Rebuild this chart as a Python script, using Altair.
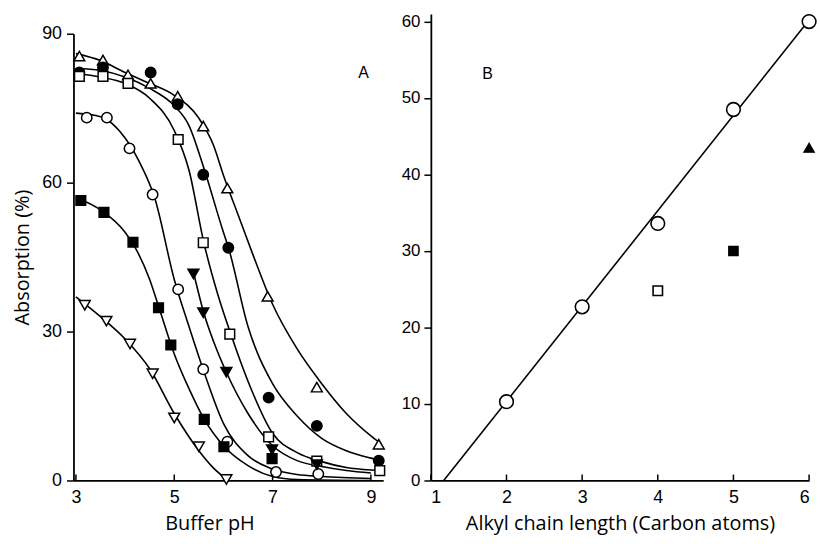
import altair as alt
import pandas as pd

# ---------------- Panel A: absorption vs buffer pH ----------------
# measured points (pH, absorption %)
tri_up_ph = [3.07, 3.55, 4.06, 4.52, 5.07, 5.59, 6.08, 6.9, 7.9, 9.16]
tri_up_val = [85.5, 84.7, 81.7, 80.0, 77.4, 71.4, 58.9, 37.1, 18.8, 7.3]
circ_f_ph = [3.07, 3.55, 4.52, 5.07, 5.59, 6.1, 6.92, 7.9, 9.16]
circ_f_val = [82.2, 83.2, 82.2, 75.8, 61.6, 46.9, 16.7, 11.0, 4.0]
sq_o_ph = [3.07, 3.55, 4.06, 5.08, 5.59, 6.13, 6.92, 7.9, 9.18]
sq_o_val = [81.4, 81.4, 80.0, 68.7, 47.9, 29.5, 8.8, 3.9, 2.0]
circ_o_ph = [3.22, 3.63, 4.09, 4.56, 5.08, 5.59, 6.08, 7.07, 7.93]
circ_o_val = [73.1, 73.1, 66.9, 57.6, 38.5, 22.4, 7.8, 1.7, 1.3]
sq_f_ph = [3.1, 3.57, 4.16, 4.68, 4.93, 5.61, 6.01, 6.99]
sq_f_val = [56.4, 54.0, 48.0, 34.8, 27.3, 12.3, 6.8, 4.4]
tri_dn_o_ph = [3.18, 3.62, 4.1, 4.56, 5.0, 5.5, 6.06]
tri_dn_o_val = [35.3, 32.1, 27.5, 21.5, 12.6, 6.8, 0.2]
tri_dn_f_ph = [5.39, 5.59, 6.06, 6.99, 7.9]
tri_dn_f_val = [41.6, 33.8, 21.8, 6.2, 3.2]

# fitted curves (pH, absorption %)
tri_up_curve_ph = [3.0, 3.5, 4.0, 4.5, 5.0, 5.5, 5.8, 6.0, 6.3, 6.6, 7.0, 7.5, 8.0, 8.5, 9.0, 9.2]
tri_up_curve_val = [86.0, 84.6, 82.2, 80.0, 77.6, 73.0, 67.5, 61.5, 53.5, 45.5, 35.5, 26.5, 19.5, 13.5, 9.0, 7.5]
circ_f_curve_ph = [3.0, 3.5, 4.0, 4.5, 5.0, 5.3, 5.6, 6.0, 6.1, 6.5, 7.0, 7.5, 8.0, 8.5, 9.0, 9.2]
circ_f_curve_val = [83.0, 82.6, 81.3, 79.0, 75.5, 71.5, 63.0, 50.0, 47.0, 31.0, 19.5, 13.0, 8.5, 6.0, 4.5, 4.0]
sq_o_curve_ph = [3.0, 3.5, 4.0, 4.5, 5.0, 5.3, 5.6, 5.9, 6.15, 6.5, 7.0, 7.5, 8.0, 8.5, 9.0, 9.2]
sq_o_curve_val = [82.0, 81.3, 80.0, 77.0, 70.5, 62.5, 48.0, 37.0, 29.5, 20.0, 9.5, 5.6, 3.8, 2.6, 2.1, 2.0]
circ_o_curve_ph = [3.0, 3.5, 4.0, 4.3, 4.6, 5.0, 5.3, 5.6, 6.0, 6.5, 7.0, 7.5, 8.0, 9.0]
circ_o_curve_val = [74.0, 73.3, 69.0, 64.0, 57.0, 40.5, 31.0, 22.0, 11.5, 5.0, 2.3, 1.2, 0.8, 0.4]
sq_f_curve_ph = [3.0, 3.5, 4.0, 4.2, 4.5, 4.7, 5.0, 5.3, 5.6, 6.0, 6.5, 7.0, 7.5, 9.0]
sq_f_curve_val = [57.0, 54.5, 50.0, 47.0, 40.5, 34.5, 25.5, 18.5, 12.5, 7.0, 3.0, 0.8, 0.2, 0.0]
tri_dn_o_curve_ph = [3.0, 3.5, 4.0, 4.5, 5.0, 5.5, 5.8, 6.1]
tri_dn_o_curve_val = [37.0, 33.0, 28.5, 22.5, 13.5, 6.0, 2.5, 0.0]
tri_dn_f_curve_ph = [5.4, 5.6, 5.8, 6.06, 6.5, 7.0, 7.5, 8.0, 8.5, 9.0]
tri_dn_f_curve_val = [41.6, 33.8, 28.0, 21.8, 13.5, 7.0, 4.0, 2.8, 2.0, 1.5]

a_x_ticks = [3, 5, 7, 9]
a_y_ticks = [0, 30, 60, 90]

# ---------------- Panel B: absorption vs alkyl chain length ----------------
b_circ_x = [2, 3, 4, 5, 6]
b_circ_y = [10.3, 22.7, 33.6, 48.5, 60.0]
b_line_x = [1.17, 6.0]
b_line_y = [0.0, 60.2]
b_sq_o_x = [4]
b_sq_o_y = [24.8]
b_sq_f_x = [5]
b_sq_f_y = [30.0]
b_tri_f_x = [6]
b_tri_f_y = [43.5]
b_x_ticks = [1, 2, 3, 4, 5, 6]
b_y_ticks = [0, 10, 20, 30, 40, 50, 60]

LABEL_FONT = "Liberation Sans"
TITLE_FONT = "Open Sans"

A_W, H = 312, 470
B_W = 381

a_x = alt.Scale(domain=[2.95, 9.25], nice=False)
a_y = alt.Scale(domain=[0, 90], range=[H, 20], nice=False)
b_x = alt.Scale(domain=[1, 6], nice=False)
b_y = alt.Scale(domain=[0, 61], nice=False)

series_styles = [
    ("tri_up", tri_up_ph, tri_up_val, tri_up_curve_ph, tri_up_curve_val, "triangle-up", False, 120),
    ("circ_f", circ_f_ph, circ_f_val, circ_f_curve_ph, circ_f_curve_val, "circle", True, 110),
    ("sq_o", sq_o_ph, sq_o_val, sq_o_curve_ph, sq_o_curve_val, "square", False, 95),
    ("circ_o", circ_o_ph, circ_o_val, circ_o_curve_ph, circ_o_curve_val, "circle", False, 110),
    ("sq_f", sq_f_ph, sq_f_val, sq_f_curve_ph, sq_f_curve_val, "square", True, 95),
    ("tri_dn_o", tri_dn_o_ph, tri_dn_o_val, tri_dn_o_curve_ph, tri_dn_o_curve_val, "triangle-down", False, 120),
    ("tri_dn_f", tri_dn_f_ph, tri_dn_f_val, tri_dn_f_curve_ph, tri_dn_f_curve_val, "triangle-down", True, 120),
]

curve_rows = []
for name, _, _, cph, cval, _, _, _ in series_styles:
    for p, v in zip(cph, cval):
        curve_rows.append({"series": name, "ph": p, "val": v})
curves_df = pd.DataFrame(curve_rows)

xA = alt.X("ph:Q", scale=a_x,
           axis=alt.Axis(values=a_x_ticks, format="d", title="Buffer pH", tickSize=0, labelPadding=8,
                         labelFontSize=18, titleFontSize=20, titlePadding=7, titleX=137))
yA = alt.Y("val:Q", scale=a_y,
           axis=alt.Axis(values=a_y_ticks, title="Absorption (%)", tickSize=7, labelPadding=5,
                         labelFontSize=18, titleFontSize=20, titlePadding=9))

layersA = [
    alt.Chart(curves_df).mark_line(color="black", strokeWidth=1.6, interpolate="monotone", clip=True)
    .encode(x=xA, y=yA, detail="series:N")
]
for name, ph, val, _, _, shape, filled, size in series_styles:
    df = pd.DataFrame({"ph": ph, "val": val})
    layersA.append(
        alt.Chart(df).mark_point(shape=shape, filled=True, fill="black" if filled else "white",
                                 stroke="black", strokeWidth=1.5, size=size, opacity=1)
        .encode(x=xA, y=yA)
    )
tickA = pd.DataFrame({"ph": a_x_ticks})
layersA.append(
    alt.Chart(tickA).mark_rule(color="black", strokeWidth=1.5)
    .encode(x=alt.X("ph:Q", scale=a_x), y=alt.value(H), y2=alt.value(H - 6))
)
layersA.append(
    alt.Chart(pd.DataFrame({"ph": [8.85], "val": [82.0], "t": ["A"]}))
    .mark_text(font=LABEL_FONT, fontSize=16, color="black")
    .encode(x=alt.X("ph:Q", scale=a_x), y=alt.Y("val:Q", scale=a_y), text="t:N")
)
panelA = alt.layer(*layersA).properties(width=A_W, height=H)

# Panel B
xB = alt.X("n:Q", scale=b_x,
           axis=alt.Axis(values=b_x_ticks, format="d", title="Alkyl chain length (Carbon atoms)", tickSize=0,
                         labelPadding=8, labelFontSize=18, titleFontSize=20, titlePadding=7))
yB = alt.Y("v:Q", scale=b_y,
           axis=alt.Axis(values=b_y_ticks, format="d", title=None, tickSize=7, labelPadding=4,
                         labelFontSize=17))

layersB = [
    alt.Chart(pd.DataFrame({"n": b_line_x, "v": b_line_y}))
    .mark_line(color="black", strokeWidth=1.6).encode(x=xB, y=yB),
    alt.Chart(pd.DataFrame({"n": b_circ_x, "v": b_circ_y}))
    .mark_point(shape="circle", filled=True, fill="white", stroke="black", strokeWidth=1.6, size=190, opacity=1)
    .encode(x=xB, y=yB),
    alt.Chart(pd.DataFrame({"n": b_sq_o_x, "v": b_sq_o_y}))
    .mark_point(shape="square", filled=True, fill="white", stroke="black", strokeWidth=1.6, size=90, opacity=1)
    .encode(x=xB, y=yB),
    alt.Chart(pd.DataFrame({"n": b_sq_f_x, "v": b_sq_f_y}))
    .mark_point(shape="square", filled=True, fill="black", stroke="black", strokeWidth=1.2, size=90, opacity=1)
    .encode(x=xB, y=yB),
    alt.Chart(pd.DataFrame({"n": b_tri_f_x, "v": b_tri_f_y}))
    .mark_point(shape="triangle-up", filled=True, fill="black", stroke="black", strokeWidth=1.2, size=110, opacity=1)
    .encode(x=xB, y=yB),
    alt.Chart(pd.DataFrame({"n": b_x_ticks}))
    .mark_rule(color="black", strokeWidth=1.5)
    .encode(x=alt.X("n:Q", scale=b_x), y=alt.value(H), y2=alt.value(H - 6)),
    alt.Chart(pd.DataFrame({"n": [1.75], "v": [53.2], "t": ["B"]}))
    .mark_text(font=LABEL_FONT, fontSize=16, color="black")
    .encode(x=alt.X("n:Q", scale=b_x), y=alt.Y("v:Q", scale=b_y), text="t:N"),
]
panelB = alt.layer(*layersB).properties(width=B_W, height=H)

chart = (
    alt.hconcat(panelA, panelB, spacing=48, bounds="flush")
    .resolve_scale(x="independent", y="independent")
    .properties(padding={"left": 12, "top": 9, "right": 0, "bottom": 10}, background="white")
    .configure_view(stroke=None)
    .configure_axis(grid=False, domainColor="black", domainWidth=1.8, tickColor="black",
                    tickWidth=1.5, labelColor="black", titleColor="black",
                    labelFont=LABEL_FONT, titleFont=TITLE_FONT, titleFontWeight="normal")
)

chart.save("out.html", embed_options={"renderer": "svg", "actions": False})
